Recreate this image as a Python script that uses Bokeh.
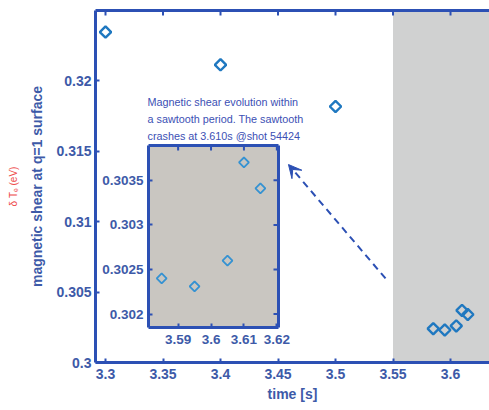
from math import pi

from bokeh.embed import file_html
from bokeh.models import Arrow, FixedTicker, Label, LinearAxis, Range1d, VeeHead
from bokeh.plotting import figure
from bokeh.resources import INLINE

# ---- data -------------------------------------------------------------
time_s = [3.300, 3.400, 3.500, 3.585, 3.595, 3.605, 3.610, 3.615]
shear = [0.32347, 0.32114, 0.31818, 0.30240, 0.30231, 0.30260, 0.30370, 0.30341]

# the last five samples belong to the sawtooth period shown in the inset
inset_time = time_s[3:]
inset_shear = shear[3:]

x_ticks = [3.30, 3.35, 3.40, 3.45, 3.50, 3.55, 3.60]
x_tick_labels = ["3.3", "3.35", "3.4", "3.45", "3.5", "3.55", "3.6"]
y_ticks = [0.300, 0.305, 0.310, 0.315, 0.320]
y_tick_labels = ["0.3", "0.305", "0.31", "0.315", "0.32"]

inset_x_ticks = [3.59, 3.60, 3.61, 3.62]
inset_x_labels = ["3.59", "3.6", "3.61", "3.62"]
inset_y_ticks = [0.3020, 0.3025, 0.3030, 0.3035]
inset_y_labels = ["0.302", "0.3025", "0.303", "0.3035"]

crash_window = (3.55, 3.70)

# ---- style / layout ---------------------------------------------------
AX = "#2c50b4"
TXT = "#3d5aa8"
MARK = "#1f78c0"
FONT = "Liberation Sans"

W, H = 489, 410
FL, FR, FT, FB = 95, 489, 10, 362          # plot frame in screen px
X_RANGE = (3.2913, 3.6339)
Y_RANGE = (0.300, 0.325)

# inset box (screen px) and its data window
IL, IR, IT, IB = 148, 278, 145, 327
INSET_X = (3.581, 3.6205)
INSET_Y = (0.30185, 0.30389)

p = figure(width=W, height=H, output_backend="svg", toolbar_location=None,
           x_range=Range1d(*X_RANGE), y_range=Range1d(*Y_RANGE),
           min_border_left=FL, min_border_right=W - FR,
           min_border_top=FT, min_border_bottom=H - FB,
           background_fill_color="white", border_fill_color="white")
p.outline_line_color = None
p.grid.visible = False

# inset ranges stretched over the whole frame so the inset box lands in place
sx = (INSET_X[1] - INSET_X[0]) / (IR - IL)
sy = (INSET_Y[1] - INSET_Y[0]) / (IB - IT)
p.extra_x_ranges = {"ix": Range1d(INSET_X[0] - (IL - FL) * sx, INSET_X[1] + (FR - IR) * sx)}
p.extra_y_ranges = {"iy": Range1d(INSET_Y[0] - (FB - IB) * sy, INSET_Y[1] + (IT - FT) * sy)}


def style_axis(ax, ticks, labels=None, size="14px"):
    ax.ticker = FixedTicker(ticks=ticks)
    if labels is not None:
        ax.major_label_overrides = dict(zip(ticks, labels))
    ax.axis_line_color = AX
    ax.axis_line_width = 3
    ax.major_tick_line_color = AX
    ax.major_tick_line_width = 2
    ax.major_tick_in = 4
    ax.major_tick_out = 0
    ax.minor_tick_line_color = None
    ax.major_label_text_font = FONT
    ax.major_label_text_font_style = "bold"
    ax.major_label_text_color = TXT
    ax.major_label_text_font_size = size


def tick_marks(xs, ys, angle, **kw):
    # short inward tick marks along a spine that carries no labels
    p.ray(x=xs, y=ys, length=5, length_units="screen", angle=angle,
          line_color=AX, line_width=2, **kw)


# main axes
style_axis(p.xaxis[0], x_ticks, x_tick_labels)
p.xaxis.major_label_standoff = 6
p.xaxis.axis_label = "time [s]"
p.xaxis.axis_label_standoff = 4

style_axis(p.yaxis[0], y_ticks, y_tick_labels)
p.yaxis.major_label_standoff = 4
p.yaxis.axis_label = "magnetic shear at q=1 surface"
p.yaxis.axis_label_standoff = 8

for ax in (p.xaxis[0], p.yaxis[0]):
    ax.axis_label_text_font = FONT
    ax.axis_label_text_font_style = "bold"
    ax.axis_label_text_font_size = "14px"
    ax.axis_label_text_color = TXT

# top spine (line only) with its ticks
top_axis = LinearAxis()
style_axis(top_axis, [])
p.add_layout(top_axis, "above")

# secondary (temperature) axis title on the far left
te_axis = LinearAxis(ticker=FixedTicker(ticks=[]), axis_line_color=None,
                     major_tick_line_color=None, minor_tick_line_color=None,
                     axis_label="δ Tₑ (eV)", axis_label_standoff=8,
                     axis_label_text_font=FONT, axis_label_text_font_style="normal",
                     axis_label_text_font_size="10px", axis_label_text_color="#ee4b4b")
p.add_layout(te_axis, "left")

# shaded crash window
p.quad(left=crash_window[0], right=crash_window[1], bottom=Y_RANGE[0], top=Y_RANGE[1],
       fill_color="#d0d1d1", line_color=None, level="underlay")

tick_marks(x_ticks, [Y_RANGE[1]] * len(x_ticks), -pi / 2)

# main series
p.scatter(time_s, shear, marker="square", angle=pi / 4, size=8,
          fill_color=None, line_color=MARK, line_width=2.4)

# ---- inset ------------------------------------------------------------
p.quad(left=INSET_X[0], right=INSET_X[1], bottom=INSET_Y[0], top=INSET_Y[1],
       x_range_name="ix", y_range_name="iy",
       fill_color="#c9c6c1", line_color=None)
tick_marks(inset_x_ticks, [INSET_Y[1]] * len(inset_x_ticks), -pi / 2,
           x_range_name="ix", y_range_name="iy")
tick_marks([INSET_X[1]] * len(inset_y_ticks), inset_y_ticks, pi,
           x_range_name="ix", y_range_name="iy")
p.scatter(inset_time, inset_shear, x_range_name="ix", y_range_name="iy",
          marker="square", angle=pi / 4, size=7,
          fill_color=None, line_color="#3592d2", line_width=1.8)

inset_axes = [
    ("left", INSET_X[0], INSET_Y, inset_y_ticks, inset_y_labels),
    ("below", INSET_Y[0], INSET_X, inset_x_ticks, inset_x_labels),
    ("right", INSET_X[1], INSET_Y, [], None),
    ("above", INSET_Y[1], INSET_X, [], None),
]
for side, loc, bounds, ticks, labels in inset_axes:
    ax = LinearAxis(x_range_name="ix", y_range_name="iy",
                    fixed_location=loc, bounds=bounds)
    style_axis(ax, ticks, labels, size="13.5px")
    ax.major_label_standoff = 5 if side == "left" else 7
    p.add_layout(ax, side)

# ---- annotations ------------------------------------------------------
note = Label(x=3.3365, y=0.31896,
             text="Magnetic shear evolution within\n"
                  "a sawtooth period. The sawtooth\n"
                  "crashes at 3.610s @shot 54424",
             text_font=FONT, text_font_size="10.8px", text_color="#3c50b4",
             text_align="left", text_baseline="top", text_line_height=1.45)
p.add_layout(note)

p.add_layout(Arrow(x_start=3.5435, y_start=0.30597, x_end=3.4591, y_end=0.31406,
                   line_color=AX, line_width=2, line_dash="7 5",
                   end=VeeHead(size=13, fill_color=AX, line_color=AX)))

open("out.html", "w").write(file_html(p, INLINE))
